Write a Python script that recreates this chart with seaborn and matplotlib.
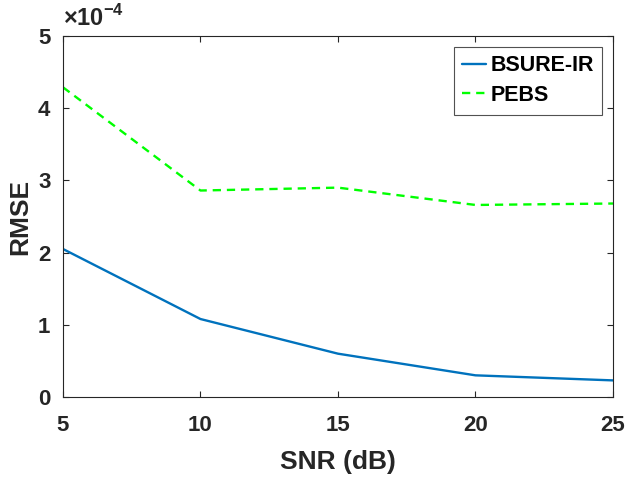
import matplotlib
matplotlib.use('Agg')
import matplotlib.pyplot as plt
import seaborn as sns
import pandas as pd

# values (RMSE, in units of 1e-4)
snr = [5, 10, 15, 20, 25]
bsure_ir = [2.05, 1.08, 0.60, 0.30, 0.23]
pebs = [4.29, 2.86, 2.90, 2.66, 2.68]
x_ticks = [5, 10, 15, 20, 25]
y_ticks = [0, 1, 2, 3, 4, 5]

df = pd.DataFrame({
    'SNR': snr * 2,
    'RMSE': [v * 1e-4 for v in bsure_ir + pebs],
    'method': ['BSURE-IR'] * len(snr) + ['PEBS'] * len(snr),
})

sns.set_style('ticks')
plt.rcParams['font.family'] = ['Liberation Sans', 'DejaVu Sans']
plt.rcParams['font.weight'] = 'bold'
plt.rcParams['mathtext.fontset'] = 'custom'
plt.rcParams['mathtext.rm'] = 'Liberation Sans'
plt.rcParams['mathtext.bf'] = 'Liberation Sans:bold'

fig = plt.figure(figsize=(6.26, 4.79), dpi=100)
ax = fig.add_axes([0.1006, 0.1712, 0.8786, 0.7536])

sns.lineplot(data=df, x='SNR', y='RMSE', hue='method', style='method',
             palette={'BSURE-IR': '#0072BD', 'PEBS': '#00FF00'},
             dashes={'BSURE-IR': '', 'PEBS': (3.5, 2.5)},
             linewidth=1.7, ax=ax)

ax.set_xlim(5, 25)
ax.set_ylim(0, 5e-4)
ax.set_xticks(x_ticks)
ax.set_yticks([t * 1e-4 for t in y_ticks])
ax.set_yticklabels([str(t) for t in y_ticks])
ax.set_xlabel('SNR (dB)', fontsize=19, fontweight='bold', color='#262626', labelpad=10)
ax.set_ylabel('RMSE', fontsize=19, fontweight='bold', color='#262626', labelpad=4)
ax.tick_params(direction='in', length=4, width=0.8, colors='#262626',
               labelsize=16, top=True, right=True)
ax.tick_params(axis='x', pad=13)
ax.tick_params(axis='y', pad=9)
for lbl in ax.get_xticklabels() + ax.get_yticklabels():
    lbl.set_fontweight('bold')
for s in ax.spines.values():
    s.set_visible(True)
    s.set_color('#262626')
    s.set_linewidth(0.8)

# MATLAB-style exponent label above the y axis
ax.text(0.0, 1.015, r'$\times$10$^{\mathbf{-4}}$', transform=ax.transAxes,
        fontsize=17, color='#262626', ha='left', va='bottom')

leg = ax.legend(loc='upper right', fontsize=15.5, frameon=True, fancybox=False,
                edgecolor='#262626', borderaxespad=0.5, handlelength=1.1,
                handletextpad=0.2, borderpad=0.4, labelspacing=0.4)
leg.get_frame().set_linewidth(0.8)
for t in leg.get_texts():
    t.set_fontweight('bold')
    t.set_color('black')

plt.savefig('out.png', dpi=100)
plt.close()
